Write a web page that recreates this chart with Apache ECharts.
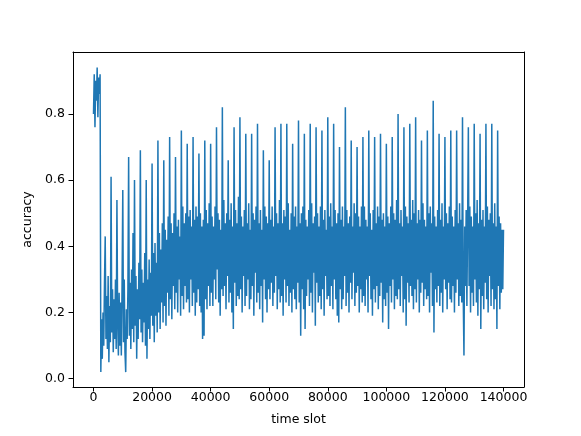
<!DOCTYPE html>
<html>
<head>
<meta charset="utf-8">
<script src="https://cdn.jsdelivr.net/npm/echarts@6/dist/echarts.min.js"></script>
<style>
html,body{margin:0;padding:0;background:#fff;}
#chart{width:581px;height:436px;}
</style>
</head>
<body>
<div id="chart"></div>
<script>
// time slot spacing between consecutive samples
const slotStep = 250;

// accuracy samples, one block per 20000 time slots (80 samples each)
const accuracy0to20k = [
  0.80,0.92,0.76,0.90,0.84,0.94,0.79,0.91,0.86,0.92,
  0.02,0.18,0.06,0.20,0.10,0.29,
  0.43,0.12,0.25,0.09,0.31,0.05,0.22,0.11,
  0.61,0.14,0.27,0.08,0.24,0.12,0.30,0.09,
  0.54,0.17,0.07,0.26,0.10,0.23,0.07,0.28,
  0.57,0.11,0.30,0.08,0.02,0.21,0.12,0.27,
  0.67,0.13,0.29,0.09,0.33,0.15,0.44,0.11,
  0.60,0.16,0.31,0.06,0.27,0.12,0.35,0.18,
  0.69,0.14,0.33,0.11,0.29,0.17,0.38,0.10,
  0.60,0.06,0.30,0.15,0.36,0.12,0.32,0.19
];
const accuracy20kto40k = [
  0.65,0.16,0.38,0.11,0.41,0.19,0.35,0.14,
  0.72,0.20,0.44,0.15,0.39,0.23,0.47,0.17,
  0.66,0.22,0.45,0.16,0.42,0.26,0.49,0.19,
  0.73,0.24,0.47,0.18,0.44,0.28,0.50,0.21,
  0.67,0.26,0.46,0.20,0.48,0.30,0.43,0.19,
  0.75,0.25,0.52,0.21,0.47,0.28,0.50,0.23,
  0.71,0.24,0.49,0.20,0.51,0.30,0.46,0.22,
  0.73,0.26,0.48,0.19,0.52,0.23,0.49,0.27,
  0.68,0.22,0.50,0.20,0.46,0.12,0.48,0.13,
  0.72,0.24,0.51,0.21,0.47,0.28,0.53,0.22
];
const accuracy40kto60k = [
  0.71,0.26,0.49,0.22,0.46,0.30,0.52,0.24,
  0.76,0.33,0.50,0.23,0.48,0.19,0.45,0.27,
  0.82,0.25,0.54,0.28,0.47,0.21,0.50,0.31,
  0.66,0.23,0.48,0.26,0.53,0.20,0.46,0.15,
  0.76,0.29,0.51,0.22,0.47,0.25,0.55,0.24,
  0.79,0.27,0.49,0.20,0.46,0.31,0.51,0.22,
  0.74,0.25,0.47,0.30,0.53,0.21,0.45,0.24,
  0.74,0.28,0.50,0.19,0.48,0.32,0.52,0.23,
  0.77,0.26,0.47,0.21,0.51,0.28,0.45,0.17,
  0.69,0.30,0.52,0.24,0.49,0.20,0.47,0.27
];
const accuracy60kto80k = [
  0.66,0.24,0.48,0.29,0.52,0.22,0.46,0.26,
  0.76,0.31,0.50,0.21,0.47,0.27,0.54,0.23,
  0.77,0.25,0.47,0.19,0.51,0.30,0.49,0.23,
  0.77,0.28,0.53,0.22,0.45,0.26,0.50,0.20,
  0.71,0.27,0.49,0.24,0.52,0.21,0.46,0.29,
  0.78,0.23,0.47,0.13,0.50,0.27,0.52,0.21,
  0.74,0.15,0.48,0.25,0.46,0.30,0.51,0.22,
  0.77,0.26,0.53,0.20,0.47,0.32,0.49,0.16,
  0.76,0.29,0.50,0.23,0.46,0.25,0.52,0.21,
  0.75,0.27,0.48,0.19,0.51,0.31,0.45,0.24
];
const accuracy80kto100k = [
  0.79,0.25,0.49,0.22,0.53,0.28,0.46,0.21,
  0.77,0.30,0.51,0.24,0.47,0.19,0.50,0.17,
  0.70,0.27,0.48,0.21,0.52,0.24,0.46,0.31,
  0.82,0.22,0.51,0.26,0.47,0.20,0.49,0.29,
  0.72,0.24,0.46,0.32,0.53,0.22,0.50,0.26,
  0.70,0.28,0.49,0.20,0.46,0.27,0.52,0.23,
  0.73,0.25,0.52,0.22,0.48,0.30,0.46,0.20,
  0.75,0.31,0.50,0.24,0.45,0.19,0.51,0.27,
  0.73,0.23,0.47,0.28,0.52,0.21,0.49,0.25,
  0.74,0.29,0.48,0.17,0.50,0.24,0.46,0.22
];
const accuracy100kto120k = [
  0.71,0.26,0.49,0.15,0.47,0.28,0.52,0.23,
  0.73,0.30,0.50,0.21,0.48,0.25,0.54,0.24,
  0.80,0.27,0.47,0.22,0.51,0.31,0.46,0.20,
  0.76,0.24,0.52,0.16,0.49,0.29,0.47,0.23,
  0.77,0.28,0.48,0.25,0.54,0.21,0.50,0.27,
  0.79,0.23,0.47,0.30,0.51,0.20,0.48,0.26,
  0.72,0.29,0.53,0.22,0.48,0.27,0.46,0.24,
  0.75,0.25,0.50,0.20,0.52,0.32,0.47,0.22,
  0.84,0.14,0.49,0.27,0.46,0.23,0.51,0.28,
  0.74,0.22,0.48,0.26,0.53,0.20,0.46,0.30
];
const accuracy120kto140k = [
  0.73,0.27,0.50,0.21,0.47,0.29,0.52,0.24,
  0.75,0.23,0.49,0.28,0.46,0.20,0.51,0.26,
  0.75,0.30,0.47,0.22,0.53,0.25,0.48,0.23,
  0.79,0.25,0.07,0.46,0.28,0.51,0.22,0.48,
  0.76,0.28,0.52,0.20,0.49,0.26,0.46,0.22,
  0.77,0.30,0.50,0.23,0.54,0.19,0.47,0.27,
  0.74,0.15,0.48,0.25,0.51,0.21,0.46,0.29,
  0.77,0.24,0.52,0.20,0.48,0.31,0.50,0.22,
  0.77,0.27,0.47,0.21,0.53,0.24,0.46,0.15,
  0.75,0.28,0.49,0.21,0.47,0.26,0.45,0.27
];
const accuracyFinal = [0.45];

const xTicks = [0,20000,40000,60000,80000,100000,120000,140000];
const yTicks = [0.0,0.2,0.4,0.6,0.8];

const accuracy = [].concat(accuracy0to20k, accuracy20kto40k, accuracy40kto60k,
  accuracy60kto80k, accuracy80kto100k, accuracy100kto120k, accuracy120kto140k, accuracyFinal);
const seriesData = accuracy.map((v, i) => [i * slotStep, v]);

const chart = echarts.init(document.getElementById('chart'), null, {renderer: 'canvas'});
const font = 'DejaVu Sans';
const X_MIN = -7000, X_MAX = 147000, Y_MIN = -0.025, Y_MAX = 0.987;
const frameLine = {show: true, lineStyle: {color: '#000', width: 1}};
chart.setOption({
  animation: false,
  backgroundColor: '#ffffff',
  grid: {left: 73, right: 57, top: 52, bottom: 49},
  xAxis: [{
    type: 'value', min: X_MIN, max: X_MAX, position: 'bottom',
    name: 'time slot', nameLocation: 'middle', nameGap: 26,
    nameTextStyle: {color: '#000', fontSize: 12.5, fontFamily: font},
    axisLine: Object.assign({onZero: false}, frameLine),
    splitLine: {show: false},
    axisTick: {show: true, length: 4.5, inside: false, customValues: xTicks, lineStyle: {color: '#000', width: 1}},
    axisLabel: {customValues: xTicks, color: '#000', fontSize: 12.5, fontFamily: font, margin: 4,
      formatter: v => String(Math.round(v))},
  }, {
    type: 'value', min: X_MIN, max: X_MAX, position: 'top',
    axisLine: Object.assign({onZero: false}, frameLine),
    axisTick: {show: false}, axisLabel: {show: false}, splitLine: {show: false}
  }],
  yAxis: [{
    type: 'value', min: Y_MIN, max: Y_MAX, position: 'left',
    name: 'accuracy', nameLocation: 'middle', nameGap: 32, nameRotate: 90,
    nameTextStyle: {color: '#000', fontSize: 12.5, fontFamily: font},
    axisLine: Object.assign({onZero: false}, frameLine),
    splitLine: {show: false},
    axisTick: {show: true, length: 4.5, customValues: yTicks, lineStyle: {color: '#000', width: 1}},
    axisLabel: {customValues: yTicks, color: '#000', fontSize: 12.5, fontFamily: font, margin: 8,
      formatter: v => v.toFixed(1)},
  }, {
    type: 'value', min: Y_MIN, max: Y_MAX, position: 'right',
    axisLine: Object.assign({onZero: false}, frameLine),
    axisTick: {show: false}, axisLabel: {show: false}, splitLine: {show: false}
  }],
  series: [{
    type: 'line', data: seriesData, showSymbol: false, symbol: 'none', xAxisIndex: 0, yAxisIndex: 0,
    sampling: null, lineStyle: {color: '#1f77b4', width: 1.5}, silent: true, clip: true
  }]
});
</script>
</body>
</html>
